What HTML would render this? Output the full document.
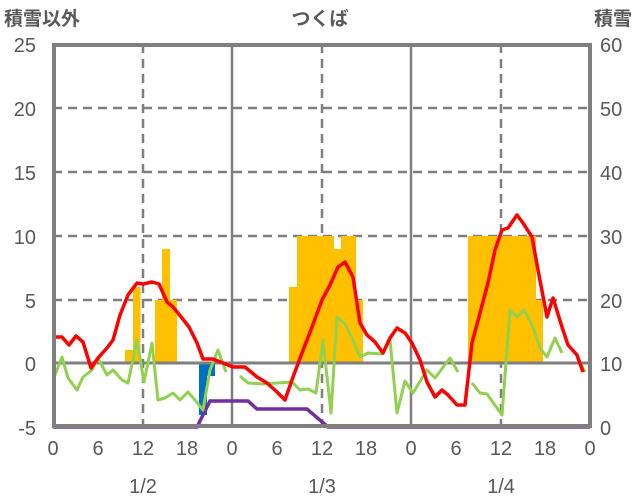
<!DOCTYPE html>
<html><head><meta charset="utf-8"><style>
html,body{margin:0;padding:0;background:#fff}
svg{display:block}
text{font-family:"Liberation Sans","Noto Sans CJK JP",sans-serif;fill:#595959}
</style></head><body>
<svg width="636" height="501" viewBox="0 0 636 501" xmlns="http://www.w3.org/2000/svg">
<g stroke="#7f7f7f" stroke-width="2.5" stroke-dasharray="9,6">
<line x1="53" y1="108" x2="591" y2="108"/>
<line x1="53" y1="172" x2="591" y2="172"/>
<line x1="53" y1="236" x2="591" y2="236"/>
<line x1="53" y1="300" x2="591" y2="300"/>
<line x1="143" y1="44" x2="143" y2="427"/>
<line x1="322" y1="44" x2="322" y2="427"/>
<line x1="501" y1="44" x2="501" y2="427"/>
</g>
<g stroke="#7f7f7f" stroke-width="2.5">
<line x1="232" y1="44" x2="232" y2="427"/>
<line x1="411" y1="44" x2="411" y2="427"/>
</g>
<g fill="#ffc000">
<rect x="125" y="350" width="8" height="13"/>
<rect x="133" y="287" width="7.5" height="76"/>
<rect x="155" y="300" width="7.5" height="63"/>
<rect x="162" y="249" width="8" height="114"/>
<rect x="170" y="300" width="7" height="63"/>
<rect x="289" y="287" width="8" height="76"/>
<rect x="297" y="236" width="37" height="127"/>
<rect x="334" y="249" width="7.5" height="114"/>
<rect x="341" y="236" width="15" height="127"/>
<rect x="356" y="300" width="7" height="63"/>
<rect x="468" y="236" width="68" height="127"/>
<rect x="536" y="300" width="7" height="63"/>
</g>
<g fill="#0070c0">
<rect x="199" y="363" width="8" height="52"/>
<rect x="207" y="363" width="8" height="13"/>
</g>
<line x1="53" y1="363" x2="591" y2="363" stroke="#7f7f7f" stroke-width="3"/>
<polyline fill="none" stroke="#7030a0" stroke-width="3.5" points="53,427 197,427 210,401 248,401 257,409 307,409 328,427 590,427"/>
<g fill="none" stroke="#92d050" stroke-width="3" stroke-linejoin="round">
<polyline points="53,380 62,357 68,378 77,390 83,377 92,370 98,358 107,375 113,370 122,380 128,383 137,340 144,382 152,343 158,400 165,398 173,393 180,400 188,392 195,400 203,410 210,370 218,350 226,372"/>
<polyline points="240,376 248,383 263,384 277,383 292,382 300,390 308,389 316,393 323,340 331,413 337,317 345,324 353,340 360,357 368,353 382,354 390,340 397,413 405,381 413,393 427,370 435,378 450,358 458,372"/>
<polyline points="472,383 480,393 487,394 502,415 510,310 517,317 524,310 532,325 540,348 547,357 555,338 562,353"/>
<polyline points="577,357 585,372"/>
</g>
<polyline fill="none" stroke="#ff0000" stroke-width="3.5" stroke-linejoin="round" points="53,337 62,337 69,345 76,336 83,342 91,368 98,358 107,348 113,340 120,315 128,295 137,283 143,284 152,282 159,284 167,302 173,307 182,318 189,327 197,343 203,359 213,359 223,363 233,367 245,367 257,377 267,383 277,392 285,400 293,377 302,353 312,327 322,300 330,285 338,267 345,262 353,277 360,323 367,335 375,342 383,353 390,338 397,328 405,333 412,343 420,360 427,382 435,397 442,390 448,395 457,405 465,405 472,343 480,313 488,283 495,250 502,230 508,228 517,215 523,223 532,237 538,270 547,317 553,298 562,327 568,345 577,355 583,372"/>
<rect x="54" y="45" width="536" height="381" fill="none" stroke="#7f7f7f" stroke-width="4"/>
<g font-size="20" text-anchor="end">
<text x="36" y="52">25</text>
<text x="36" y="116">20</text>
<text x="36" y="180">15</text>
<text x="36" y="244">10</text>
<text x="36" y="308">5</text>
<text x="36" y="371">0</text>
<text x="36" y="435">-5</text>
</g>
<g font-size="20" text-anchor="start">
<text x="600" y="52">60</text>
<text x="600" y="116">50</text>
<text x="600" y="180">40</text>
<text x="600" y="244">30</text>
<text x="600" y="308">20</text>
<text x="600" y="371">10</text>
<text x="600" y="435">0</text>
</g>
<g font-size="20" text-anchor="middle">
<text x="53" y="455">0</text><text x="98" y="455">6</text><text x="143" y="455">12</text><text x="187" y="455">18</text>
<text x="232" y="455">0</text><text x="277" y="455">6</text><text x="322" y="455">12</text><text x="366" y="455">18</text>
<text x="411" y="455">0</text><text x="456" y="455">6</text><text x="501" y="455">12</text><text x="545" y="455">18</text>
<text x="590" y="455">0</text>
</g>
<g font-size="20" text-anchor="middle">
<text x="143" y="493">1/2</text>
<text x="322" y="493">1/3</text>
<text x="501" y="493">1/4</text>
</g>
<g font-size="19" font-weight="bold">
<text x="4" y="25">積雪以外</text>
<text x="320" y="25" text-anchor="middle">つくば</text>
<text x="632" y="25" text-anchor="end">積雪</text>
</g>
</svg>
</body></html>
